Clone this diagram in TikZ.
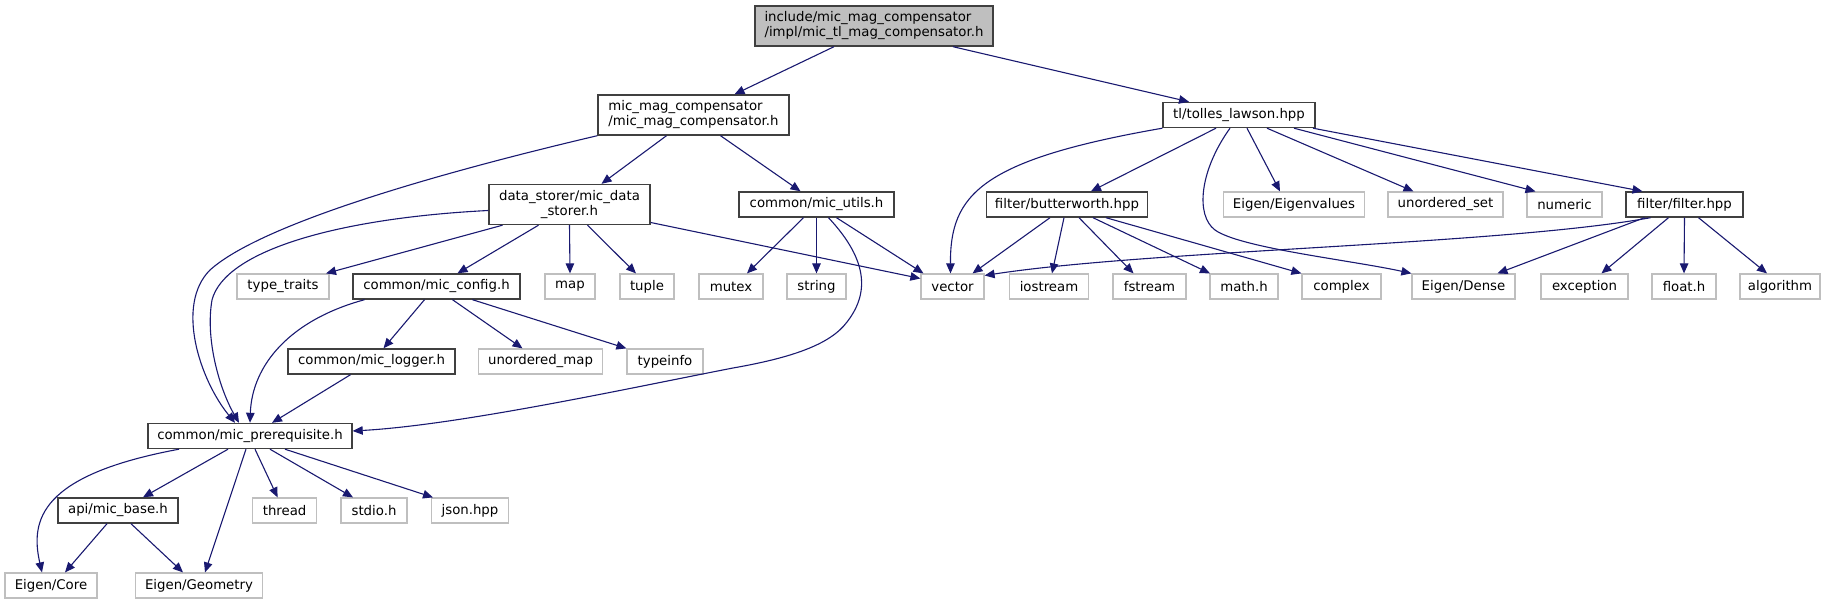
\documentclass[tikz,border=0pt]{standalone}
\usepackage{fontspec}
\setmainfont{DejaVu Sans}
\usepackage{tikz}
\usetikzlibrary{arrows.meta}
\definecolor{edgeblue}{HTML}{191970}
\definecolor{nodeline}{HTML}{404040}
\definecolor{rootfill}{HTML}{BFBFBF}
\definecolor{extline}{HTML}{BFBFBF}
\newcommand{\graphfont}{\fontsize{13.3}{15}\selectfont}
\tikzset{
  filebox/.style={draw=nodeline, line width=1.4pt, fill=white, inner sep=0pt, minimum height=25pt, font=\graphfont},
  twoline/.style={minimum height=40pt},
  rootbox/.style={filebox, twoline, fill=rootfill, align=left},
  extbox/.style={draw=extline, line width=1.2pt, fill=white, inner sep=0pt, minimum height=25pt, font=\graphfont},
  dep/.style={edgeblue, line width=1.1pt, -{Triangle[length=10pt,width=8.5pt]}}
}

\begin{document}
\begin{tikzpicture}[x=1pt,y=-1pt]
  \useasboundingbox (0,0) rectangle (1831,604);

  % Project headers
  \node[rootbox, minimum width=238pt] (root) at (874,26) {include/mic\_mag\_compensator\\/impl/mic\_tl\_mag\_compensator.h};
  \node[filebox, twoline, align=left, minimum width=191pt] (mmc) at (693.5,115) {mic\_mag\_compensator\\/mic\_mag\_compensator.h};
  \node[filebox, minimum width=152pt] (tl) at (1239,115) {tl/tolles\_lawson.hpp};
  \node[filebox, twoline, align=center, minimum width=161pt] (store) at (569.5,204.5) {data\_storer/mic\_data\\\_storer.h};
  \node[filebox, minimum width=155pt] (utils) at (816.5,204.5) {common/mic\_utils.h};
  \node[filebox, minimum width=161pt] (butter) at (1067,204.5) {filter/butterworth.hpp};
  \node[filebox, minimum width=117pt] (filter) at (1684.5,204.5) {filter/filter.hpp};
  \node[filebox, minimum width=167pt] (config) at (436.5,286.5) {common/mic\_config.h};
  \node[filebox, minimum width=167pt] (logger) at (371.5,361.5) {common/mic\_logger.h};
  \node[filebox, minimum width=204pt] (prereq) at (250,436) {common/mic\_prerequisite.h};
  \node[filebox, minimum width=120pt] (base) at (118,510.5) {api/mic\_base.h};

  % System / library headers
  \foreach \id/\x/\w/\txt in {eigval/1294/141/{Eigen/Eigenvalues}, uset/1445.5/115/unordered\_set, numeric/1564.5/75/numeric}
    \node[extbox, minimum width=\w pt] (\id) at (\x,204.5) {\txt};
  \foreach \id/\x/\w/\txt in {typetraits/283/92/type\_traits, map/570/50/map, tuple/647/54/tuple, mutex/731/64/mutex,
      string/816.5/59/string, vector/952.5/63/vector, iostream/1049/79/iostream, fstream/1149.5/73/fstream,
      mathh/1244/68/math.h, complex/1341.5/79/complex, dense/1463.5/103/{Eigen/Dense}, exception/1584.5/87/exception,
      floath/1684/64/float.h, algorithm/1780/80/algorithm}
    \node[extbox, minimum width=\w pt] (\id) at (\x,286.5) {\txt};
  \foreach \id/\x/\w/\txt in {umap/540.5/124/unordered\_map, typeinfo/665/76/typeinfo}
    \node[extbox, minimum width=\w pt] (\id) at (\x,361.5) {\txt};
  \foreach \id/\x/\w/\txt in {thread/284.6/64/thread, stdio/374/66/stdio.h, json/470/77/json.hpp}
    \node[extbox, minimum width=\w pt] (\id) at (\x,510.5) {\txt};
  \foreach \id/\x/\w/\txt in {core/51/92/{Eigen/Core}, geom/199/127/{Eigen/Geometry}}
    \node[extbox, minimum width=\w pt] (\id) at (\x,585.5) {\txt};

  % root
  \draw[dep] ([xshift=-40pt]root.south) -- ([xshift=41pt]mmc.north);
  \draw[dep] ([xshift=79pt]root.south) -- ([xshift=-50pt]tl.north);
  % mic_mag_compensator.h
  \draw[dep] ([xshift=-27pt]mmc.south) -- ([xshift=32pt]store.north);
  \draw[dep] ([xshift=27pt]mmc.south) -- ([xshift=-16pt]utils.north);
  \draw[dep] (mmc.south west) .. controls (430,175) and (260,225) .. (210,270) .. controls (175,305) and (200,380) .. ([xshift=-15pt]prereq.north);
  % data storer
  \draw[dep] ([yshift=-6pt]store.west) .. controls (340,218) and (225,250) .. (212,300) .. controls (205,340) and (220,390) .. ([xshift=-11pt]prereq.north);
  \draw[dep] ([xshift=-67pt]store.south) -- ([xshift=43pt]typetraits.north);
  \draw[dep] ([xshift=-31pt]store.south) -- ([xshift=21pt]config.north);
  \draw[dep] (store.south) -- (map.north);
  \draw[dep] ([xshift=18pt]store.south) -- ([xshift=-11pt]tuple.north);
  \draw[dep] ([yshift=-18pt]store.east) -- ([yshift=8pt]vector.west);
  % utils
  \draw[dep] ([xshift=-13pt]utils.south) -- ([xshift=16pt]mutex.north);
  \draw[dep] (utils.south) -- (string.north);
  \draw[dep] ([xshift=20pt]utils.south) -- ([xshift=-29pt]vector.north);
  \draw[dep] ([xshift=12pt]utils.south) .. controls (870,262) and (868,295) .. (847,322) .. controls (830,345) and (790,358) .. (733,368) .. controls (630,388) and (460,425) .. ([yshift=5pt]prereq.east);
  % config
  \draw[dep] ([xshift=-72pt]config.south) .. controls (290,320) and (252,365) .. (prereq.north);
  \draw[dep] ([xshift=-12pt]config.south) -- ([xshift=12pt]logger.north);
  \draw[dep] ([xshift=16pt]config.south) -- ([xshift=-18pt]umap.north);
  \draw[dep] ([xshift=36pt]config.south) -- (typeinfo.north west);
  % logger
  \draw[dep] ([xshift=-21pt]logger.south) -- ([xshift=22pt]prereq.north);
  % prerequisite
  \draw[dep] ([xshift=-71pt]prereq.south) .. controls (40,475) and (30,520) .. ([xshift=-9pt]core.north);
  \draw[dep] ([xshift=-22pt]prereq.south) -- ([xshift=25pt]base.north);
  \draw[dep] ([xshift=-4pt]prereq.south) -- ([xshift=6pt]geom.north);
  \draw[dep] ([xshift=5pt]prereq.south) -- ([xshift=-7pt]thread.north);
  \draw[dep] ([xshift=20pt]prereq.south) -- ([xshift=-21pt]stdio.north);
  \draw[dep] ([xshift=35pt]prereq.south) -- ([xshift=-37pt]json.north);
  % base
  \draw[dep] ([xshift=-11pt]base.south) -- ([xshift=14pt]core.north);
  \draw[dep] ([xshift=13pt]base.south) -- ([xshift=-16pt]geom.north);
  % tolles lawson
  \draw[dep] (tl.south west) .. controls (980,160) and (950,195) .. ([xshift=-2pt]vector.north);
  \draw[dep] ([xshift=-23pt]tl.south) -- ([xshift=24pt]butter.north);
  \draw[dep] ([xshift=-9pt]tl.south) .. controls (1200,170) and (1195,215) .. (1215,230) .. controls (1240,248) and (1350,260) .. (dense.north west);
  \draw[dep] ([xshift=8pt]tl.south) -- ([xshift=-14pt]eigval.north);
  \draw[dep] ([xshift=28pt]tl.south) -- ([xshift=-32pt]uset.north);
  \draw[dep] ([xshift=55pt]tl.south) -- ([xshift=-29pt]numeric.north);
  \draw[dep] ([xshift=74pt]tl.south) -- ([xshift=-42pt]filter.north);
  % butterworth
  \draw[dep] ([xshift=-17pt]butter.south) -- ([xshift=20pt]vector.north);
  \draw[dep] ([xshift=-3pt]butter.south) -- ([xshift=3pt]iostream.north);
  \draw[dep] ([xshift=12pt]butter.south) -- ([xshift=-16pt]fstream.north);
  \draw[dep] ([xshift=26pt]butter.south) -- ([xshift=-34pt]mathh.north);
  \draw[dep] ([xshift=39pt]butter.south) -- (complex.north west);
  % filter
  \draw[dep] ([xshift=-34pt]filter.south) .. controls (1500,245) and (1150,250) .. ([yshift=11pt]vector.east);
  \draw[dep] ([xshift=-40pt]filter.south) -- ([xshift=34pt]dense.north);
  \draw[dep] ([xshift=-16pt]filter.south) -- ([xshift=17pt]exception.north);
  \draw[dep] (filter.south) -- (floath.north);
  \draw[dep] ([xshift=14pt]filter.south) -- ([xshift=-13pt]algorithm.north);
\end{tikzpicture}
\end{document}
